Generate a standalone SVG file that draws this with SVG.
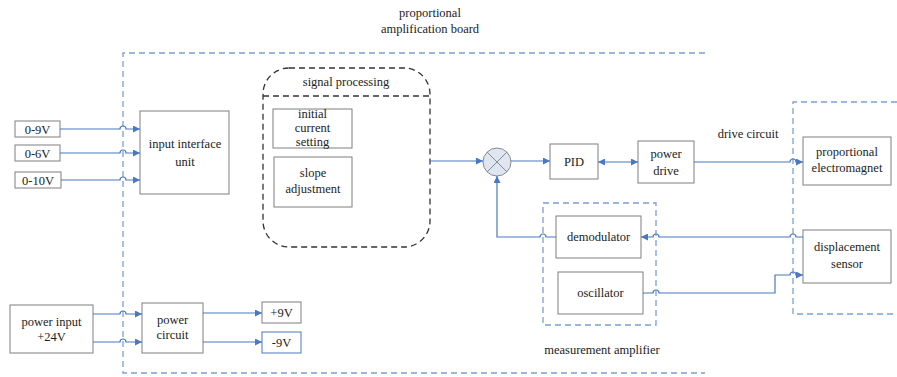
<svg xmlns="http://www.w3.org/2000/svg" width="897" height="377" viewBox="0 0 897 377">
<defs>
<marker id="arr" viewBox="0 0 10 10" refX="10" refY="5" markerWidth="7" markerHeight="7" orient="auto-start-reverse" markerUnits="userSpaceOnUse">
<path d="M0,0 L10,5 L0,10 z" fill="#4a78c2"/>
</marker>
<style>
.box{fill:#fff;stroke:#7f7f7f;stroke-width:1}
.bbox{fill:#fff;stroke:#4a78c2;stroke-width:1}
.t{font-size:12.5px;fill:#222;text-anchor:middle}
.bdash{fill:none;stroke:#7a9fd8;stroke-width:1.3;stroke-dasharray:6,4}
.kdash{fill:none;stroke:#333;stroke-width:1.3;stroke-dasharray:6,4}
.ln{fill:none;stroke:#4a78c2;stroke-width:1.2}
</style>
</defs>
<rect width="897" height="377" fill="#fff"/>

<g id="board">
<path class="bdash" d="M705,53 H123 V373 H705"/>
<text class="t" font-family="Liberation Serif" x="430" y="17">proportional</text>
<text class="t" font-family="Liberation Serif" x="430" y="33">amplification board</text>
</g>

<g id="drive-circuit-region">
<path class="bdash" d="M897,102 H793 V314 H897"/>
<text class="t" font-family="Liberation Serif" x="748" y="138">drive circuit</text>
</g>

<g id="measurement-amplifier">
<rect class="bdash" x="543" y="203" width="113" height="122"/>
<text class="t" font-family="Liberation Serif" x="602" y="354">measurement amplifier</text>
</g>

<g id="in-0-9V"><rect class="box" x="15" y="121" width="45" height="16"/><text class="t" font-family="Liberation Serif" x="37.5" y="133.5">0-9V</text></g>
<g id="in-0-6V"><rect class="box" x="15" y="145" width="45" height="16"/><text class="t" font-family="Liberation Serif" x="37.5" y="157.5">0-6V</text></g>
<g id="in-0-10V"><rect class="box" x="15" y="172" width="46" height="16"/><text class="t" font-family="Liberation Serif" x="38" y="184.5">0-10V</text></g>

<g id="input-interface"><rect class="box" x="140" y="111" width="89" height="83"/><text class="t" font-family="Liberation Serif" x="185" y="148">input interface</text><text class="t" font-family="Liberation Serif" x="185" y="166">unit</text></g>

<g id="power-input"><rect class="box" x="10" y="305" width="83" height="48"/><text class="t" font-family="Liberation Serif" x="51.5" y="326">power input</text><text class="t" font-family="Liberation Serif" x="51.5" y="341">+24V</text></g>
<g id="power-circuit"><rect class="box" x="142" y="303" width="61" height="50"/><text class="t" font-family="Liberation Serif" x="172.5" y="324">power</text><text class="t" font-family="Liberation Serif" x="172.5" y="339">circuit</text></g>
<g id="plus9V"><rect class="box" x="262" y="302" width="39" height="21"/><text class="t" font-family="Liberation Serif" x="281.5" y="317">+9V</text></g>
<g id="minus9V"><rect class="bbox" x="262" y="332" width="39" height="21"/><text class="t" font-family="Liberation Serif" x="281.5" y="347">-9V</text></g>

<g id="signal-processing">
<rect class="kdash" x="263" y="68" width="167" height="179" rx="26" ry="26"/>
<path class="kdash" d="M263,96 H430"/>
<text class="t" font-family="Liberation Serif" x="346" y="86">signal processing</text>
</g>
<g id="initial-current-setting"><rect class="box" x="273" y="109" width="79" height="39"/><text class="t" font-family="Liberation Serif" x="312.5" y="118">initial</text><text class="t" font-family="Liberation Serif" x="312.5" y="132">current</text><text class="t" font-family="Liberation Serif" x="312.5" y="146">setting</text></g>
<g id="slope-adjustment"><rect class="box" x="274" y="157" width="78" height="50"/><text class="t" font-family="Liberation Serif" x="313" y="177">slope</text><text class="t" font-family="Liberation Serif" x="313" y="193">adjustment</text></g>

<g id="summing-junction">
<circle cx="497" cy="162" r="14" fill="#dfe6f1" stroke="#8a8a8a" stroke-width="1"/>
<path d="M487.1,152.1 L506.9,171.9 M506.9,152.1 L487.1,171.9" stroke="#8a8a8a" stroke-width="1"/>
</g>
<g id="pid"><rect class="box" x="550" y="144" width="48" height="35"/><text class="t" font-family="Liberation Serif" x="574" y="166">PID</text></g>
<g id="power-drive"><rect class="box" x="638" y="141" width="56" height="42"/><text class="t" font-family="Liberation Serif" x="666" y="158">power</text><text class="t" font-family="Liberation Serif" x="666" y="175">drive</text></g>
<g id="proportional-electromagnet"><rect class="box" x="803" y="137" width="88" height="48"/><text class="t" font-family="Liberation Serif" x="847" y="156">proportional</text><text class="t" font-family="Liberation Serif" x="847" y="172">electromagnet</text></g>
<g id="displacement-sensor"><rect class="box" x="803" y="230" width="88" height="53"/><text class="t" font-family="Liberation Serif" x="847" y="251">displacement</text><text class="t" font-family="Liberation Serif" x="847" y="268">sensor</text></g>
<g id="demodulator"><rect class="box" x="556" y="216" width="85" height="42"/><text class="t" font-family="Liberation Serif" x="598.5" y="241">demodulator</text></g>
<g id="oscillator"><rect class="box" x="558" y="272" width="85" height="42"/><text class="t" font-family="Liberation Serif" x="600.5" y="297">oscillator</text></g>

<g id="connectors">
<path class="ln" marker-end="url(#arr)" d="M60,129 H120 a3,3 0 0 1 6,0 H140"/>
<path class="ln" marker-end="url(#arr)" d="M60,153 H120 a3,3 0 0 1 6,0 H140"/>
<path class="ln" marker-end="url(#arr)" d="M61,180 H120 a3,3 0 0 1 6,0 H140"/>
<path class="ln" marker-end="url(#arr)" d="M93,314 H120 a3,3 0 0 1 6,0 H142"/>
<path class="ln" marker-end="url(#arr)" d="M93,342 H120 a3,3 0 0 1 6,0 H142"/>
<path class="ln" marker-end="url(#arr)" d="M203,313 H262"/>
<path class="ln" marker-end="url(#arr)" d="M203,342 H262"/>
<path class="ln" marker-end="url(#arr)" d="M430,161 H483"/>
<path class="ln" marker-end="url(#arr)" d="M511,161 H550"/>
<path class="ln" marker-start="url(#arr)" marker-end="url(#arr)" d="M598,162 H638"/>
<path class="ln" marker-end="url(#arr)" d="M694,162 H790 a3,3 0 0 1 6,0 H803"/>
<path class="ln" marker-end="url(#arr)" d="M803,237 H796 a3,3 0 0 0 -6,0 H659 a3,3 0 0 0 -6,0 H641"/>
<path class="ln" marker-end="url(#arr)" d="M556,237 H546 a3,3 0 0 0 -6,0 H497 V176"/>
<path class="ln" marker-end="url(#arr)" d="M643,293 H653 a3,3 0 0 1 6,0 H775 V275 H790 a3,3 0 0 1 6,0 H803"/>
</g>
</svg>
